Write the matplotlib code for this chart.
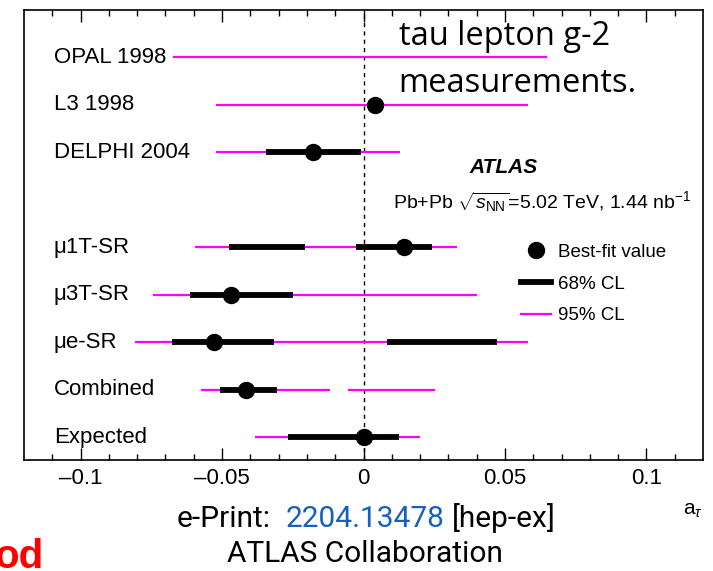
import matplotlib
matplotlib.use("Agg")
import matplotlib.pyplot as plt
from matplotlib.lines import Line2D

plt.rcParams['font.family'] = ['Liberation Sans', 'DejaVu Sans']
plt.rcParams['mathtext.fontset'] = 'custom'
plt.rcParams['mathtext.rm'] = 'Liberation Sans'
plt.rcParams['mathtext.it'] = 'Liberation Sans:italic'

# datos
etiquetas = ["OPAL 1998", "L3 1998", "DELPHI 2004", "\u03bc1T-SR", "\u03bc3T-SR",
             "\u03bce-SR", "Combined", "Expected"]
filas = [8, 7, 6, 4, 3, 2, 1, 0]
mejor = [None, 0.004, -0.018, 0.0143, -0.0467, -0.053, -0.0417, 0.0]
cl68 = [[], [], [(-0.0346, -0.001)],
        [(-0.0477, -0.0208), (-0.0025, 0.0243)],
        [(-0.0615, -0.0248)],
        [(-0.0676, -0.0317), (0.0084, 0.0473)],
        [(-0.0508, -0.0307)],
        [(-0.0268, 0.0124)]]
cl95 = [[(-0.0675, 0.065)], [(-0.052, 0.058)], [(-0.052, 0.013)],
        [(-0.0597, 0.033)], [(-0.0745, 0.040)], [(-0.0806, 0.0583)],
        [(-0.0576, -0.012), (-0.0056, 0.0252)], [(-0.0385, 0.0201)]]

fig = plt.figure(figsize=(7.13, 5.71), dpi=100)
ax = fig.add_axes([0.0337, 0.1944, 0.9523, 0.7881])

ax.axvline(0, color='black', lw=1, ls=(0, (3, 3)), zorder=1)

for i in range(len(etiquetas)):
    y = filas[i]
    for a, b in cl95[i]:
        ax.hlines(y, a, b, color='#ff00ff', lw=1.6, zorder=2)
    for a, b in cl68[i]:
        ax.hlines(y, a, b, color='black', lw=4.2, zorder=3)
    if mejor[i] is not None:
        ax.plot(mejor[i], y, 'o', color='black', ms=11.5, zorder=4)
    ax.text(-0.1095, y, etiquetas[i], fontsize=16, va='center', ha='left')

ax.set_xlim(-0.12, 0.12)
ax.set_ylim(-0.48, 9.0)
ax.set_yticks([])
ax.set_xticks([-0.1, -0.05, 0, 0.05, 0.1])
ax.set_xticklabels(["\u20130.1", "\u20130.05", "0", "0.05", "0.1"], fontsize=16)
ax.set_xticks([i / 100 for i in range(-11, 12)], minor=True)
ax.tick_params(axis='x', which='both', direction='in', top=True, pad=6)
ax.tick_params(axis='x', which='major', length=8.5, width=1)
ax.tick_params(axis='x', which='minor', length=4.3, width=1)
for s in ax.spines.values():
    s.set_linewidth(1.2)

# textos dentro del grafico
fig.text(0.559, 0.9212, "tau lepton g-2", fontsize=23.5, family='Open Sans', va='baseline')
fig.text(0.559, 0.8389, "measurements.", fontsize=23.5, family='Open Sans', va='baseline')
fig.text(0.659, 0.7075, "ATLAS", fontsize=15, fontweight='bold', style='italic', va='center')
fig.text(0.551, 0.6462, r"Pb+Pb $\sqrt{s_{\mathrm{NN}}}$=5.02 TeV, 1.44 nb$^{\mathrm{-1}}$",
         fontsize=14, va='center')

handles = [Line2D([], [], marker='o', color='black', ls='none', ms=11.5),
           Line2D([], [], color='black', lw=4.2),
           Line2D([], [], color='#ff00ff', lw=1.6)]
ax.legend(handles, ["Best-fit value", "68% CL", "95% CL"], loc='upper left',
          bbox_to_anchor=(0.718, 0.501), frameon=False, fontsize=13.5, borderpad=0,
          handlelength=1.6, handletextpad=0.37, labelspacing=0.77)

# textos de abajo
fig.text(0.986, 0.098, r"a$_{\tau}$", fontsize=15, ha='right', va='baseline')
fig.text(0.248, 0.077, "e-Print:", fontsize=21.5, family='Roboto', va='baseline')
fig.text(0.400, 0.077, "2204.13478", fontsize=21.5, family='Roboto', va='baseline',
         color='#1560bd')
fig.text(0.634, 0.077, "[hep-ex]", fontsize=21.5, family='Roboto', va='baseline')
fig.text(0.512, 0.0158, "ATLAS Collaboration", fontsize=21.5, family='Roboto',
         ha='center', va='baseline')
fig.text(-0.008, 0.005, "od", fontsize=29, fontweight='bold', color='#ff0000',
         ha='left', va='baseline')

fig.savefig("out.png", dpi=100)
